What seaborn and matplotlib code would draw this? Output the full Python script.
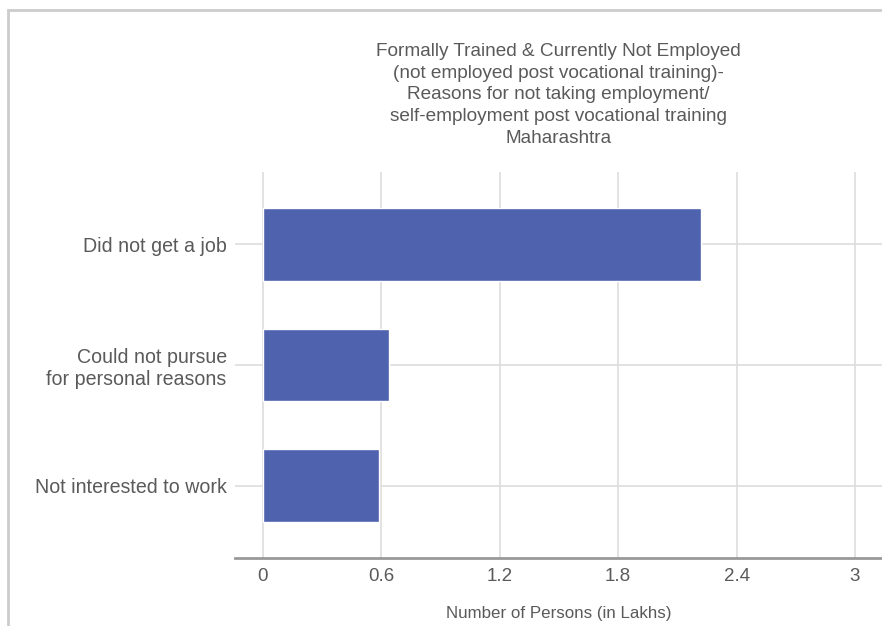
import seaborn as sns
import pandas as pd
import numpy as np
from matplotlib import pyplot as plt
from matplotlib.patches import Rectangle

# data
reasons = ['Did not get a job', 'Could not pursue\nfor personal reasons', 'Not interested to work']
persons = [2.22, 0.64, 0.59]
xticks = [0, 0.6, 1.2, 1.8, 2.4, 3]
xtick_labels = ['0', '0.6', '1.2', '1.8', '2.4', '3']

df = pd.DataFrame({'Reason': reasons, 'Persons': persons})

sns.set_style('white')
plt.rcParams['font.family'] = ['Liberation Sans', 'DejaVu Sans']
txt = '#5a5a5a'

fig = plt.figure(figsize=(8.82, 6.26), dpi=100)
ax = fig.add_axes([0.2664, 0.1086, 0.7336, 0.6166])

sns.barplot(data=df, x='Persons', y='Reason', color='#4F62AD', width=0.6,
            saturation=1, ax=ax, zorder=3)

ax.set_xlim(-0.142, 3.137)
ax.set_ylim(2.6, -0.6)
ax.set_xticks(xticks)
ax.set_xticklabels(xtick_labels)
ax.grid(True, color='#dddddd', linewidth=1.2, zorder=0)
ax.set_axisbelow(True)
ax.tick_params(axis='x', labelsize=13.5, labelcolor=txt, length=3, color='#dddddd', pad=4)
ax.tick_params(axis='y', labelsize=14.1, labelcolor=txt, length=0, pad=6)
for s in ['top', 'right', 'left']:
    ax.spines[s].set_visible(False)
ax.spines['bottom'].set_color('#999999')
ax.spines['bottom'].set_linewidth(2)

ax.set_ylabel('')
ax.set_xlabel('Number of Persons (in Lakhs)', fontsize=12.2, color=txt, labelpad=15)
ax.set_title('Formally Trained & Currently Not Employed\n'
             '(not employed post vocational training)-\n'
             'Reasons for not taking employment/\n'
             'self-employment post vocational training\n'
             'Maharashtra',
             fontsize=13.7, color=txt, linespacing=1.36, pad=21)

# outer frame of the original panel
fig.patches.append(Rectangle((0.009, -0.1), 1.2, 1.084, transform=fig.transFigure,
                             fill=False, edgecolor='#cccccc', linewidth=2))

fig.savefig('out.png', dpi=100)
